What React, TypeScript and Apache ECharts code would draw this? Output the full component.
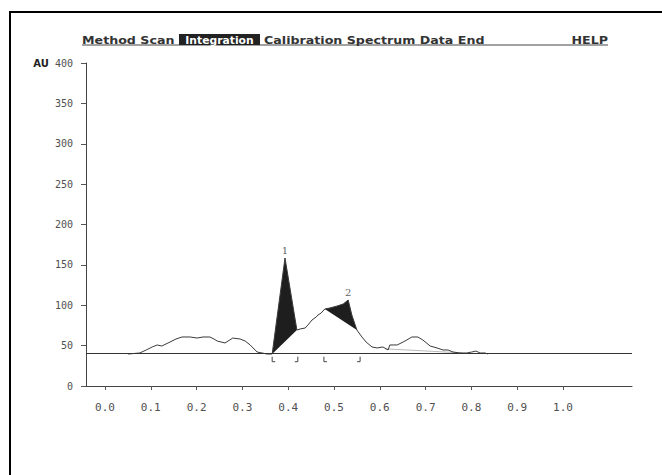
import React, { useEffect, useRef } from "react";
import * as echarts from "echarts";

// Densitometer trace (x: relative position, y: AU)
const curveX = [
  0.05, 0.076, 0.09, 0.103, 0.114, 0.124, 0.142, 0.155, 0.168, 0.186, 0.201, 0.214, 0.229, 0.238,
  0.245, 0.262, 0.279, 0.295, 0.306, 0.317, 0.332, 0.343, 0.354, 0.365, 0.393, 0.419, 0.426, 0.437,
  0.443, 0.452, 0.461, 0.465, 0.472, 0.48, 0.491, 0.507, 0.52, 0.531, 0.539, 0.55, 0.561, 0.57,
  0.583, 0.594, 0.607, 0.618, 0.622, 0.638, 0.651, 0.659, 0.67, 0.683, 0.694, 0.71, 0.725, 0.738,
  0.749, 0.76, 0.775, 0.79, 0.801, 0.81, 0.819, 0.83, 0.836,
];
const curveY = [
  39.6, 40.9, 44.6, 48.3, 50.8, 49.5, 54.5, 58.2, 60.7, 60.7, 59.4, 60.7, 60.7, 58.2,
  55.7, 53.3, 59.4, 58.2, 55.7, 50.8, 42.1, 40.9, 39.6, 39.6, 158.5, 69.3, 70.6, 71.8,
  75.5, 81.7, 85.4, 87.9, 90.4, 95.4, 96.6, 99.1, 101.5, 106.5, 87.9, 69.3, 60.7, 54.5,
  48.3, 47.1, 48.3, 44.6, 50.8, 50.8, 54.5, 57.0, 60.7, 60.7, 57.0, 49.5, 47.1, 44.6,
  44.6, 42.1, 40.9, 40.9, 42.1, 43.3, 40.9, 40.9, 39.6,
];
const baselineValue = 40;
const valleyLineX = [0.612, 0.78];
const valleyLineY = [46, 41];
const peakStarts = [0.365, 0.48];
const peakEnds = [0.419, 0.55];
const peakNames = ["1", "2"];
const markerStarts = [0.365, 0.478];
const markerEnds = [0.421, 0.557];
const xTickValues = [0, 0.1, 0.2, 0.3, 0.4, 0.5, 0.6, 0.7, 0.8, 0.9, 1.0];
const yMin = 0;
const yMax = 400;
const yStep = 50;
const yUnit = "AU";
const menuLeft = "Method Scan";
const menuActive = "Integration";
const menuRest = "Calibration Spectrum Data End";
const menuHelp = "HELP";

export default function App() {
  const ref = useRef<HTMLDivElement>(null);
  useEffect(() => {
    if (!ref.current) return;
    const chart = echarts.init(ref.current, null, { renderer: "svg" });
    const curve = curveX.map((x, i) => [x, curveY[i]]);
    const peakTops = peakStarts.map((s, i) => {
      let best = curve[0];
      curve.forEach((p) => {
        if (p[0] >= s - 1e-6 && p[0] <= peakEnds[i] + 1e-6 && (best[0] < s || p[1] > best[1])) best = p;
      });
      return { value: best, name: peakNames[i] };
    });
    const markers = [
      ...markerStarts.map((x) => [x, baselineValue, 1]),
      ...markerEnds.map((x) => [x, baselineValue, -1]),
    ];
    const mono = "DejaVu Sans Mono";
    const menuFont = "bold 11px 'DejaVu Sans'";
    const sx = 1.15;
    chart.setOption({
      animation: false,
      backgroundColor: "#ffffff",
      grid: { left: 86, right: 30, top: 63, bottom: 89, containLabel: false },
      xAxis: {
        type: "value",
        min: -0.0415,
        max: 1.1507,
        splitLine: { show: false },
        axisLine: { onZero: false, lineStyle: { color: "#444", width: 1 } },
        axisTick: { show: true, length: 4, lineStyle: { color: "#555" }, customValues: xTickValues },
        axisLabel: {
          customValues: xTickValues,
          formatter: (v: number) => v.toFixed(1),
          fontFamily: mono,
          fontSize: 11,
          color: "#505050",
          margin: 16,
        },
      },
      yAxis: {
        type: "value",
        min: yMin,
        max: yMax,
        interval: yStep,
        splitLine: { show: false },
        axisLine: { show: true, onZero: false, lineStyle: { color: "#444", width: 1 } },
        axisTick: { show: true, length: 5, lineStyle: { color: "#555" } },
        axisLabel: {
          fontFamily: mono,
          fontSize: 10,
          color: "#505050",
          margin: 13,
          formatter: (v: number) => (v === yMax ? `{au|${yUnit}} {n|${v}}` : `{n|${v}}`),
          rich: {
            au: { fontFamily: "DejaVu Sans", fontWeight: "bold", fontSize: 10, color: "#222" },
            n: { fontFamily: mono, fontSize: 10, color: "#505050" },
          },
        },
      },
      series: [
        {
          type: "custom",
          name: "fills",
          renderItem: (params: any, api: any) => {
            const i = params.dataIndex;
            const pts = curve
              .filter((p) => p[0] >= peakStarts[i] - 1e-6 && p[0] <= peakEnds[i] + 1e-6)
              .map((p) => api.coord(p));
            return { type: "polygon", shape: { points: pts }, style: { fill: "#1e1e1e" } };
          },
          data: peakStarts.map((s, i) => [s, peakEnds[i]]),
          silent: true,
          z: 1,
        },
        {
          type: "line",
          name: "trace",
          data: curve,
          symbol: "none",
          lineStyle: { color: "#3a3a3a", width: 1 },
          z: 3,
          markLine: {
            silent: true,
            symbol: "none",
            label: { show: false },
            lineStyle: { color: "#333", width: 1, type: "solid" },
            data: [{ yAxis: baselineValue }],
          },
        },
        {
          type: "line",
          name: "valley",
          data: valleyLineX.map((x, i) => [x, valleyLineY[i]]),
          symbol: "none",
          lineStyle: { color: "#bbb", width: 1 },
          z: 2,
        },
        {
          type: "scatter",
          name: "peaks",
          data: peakTops,
          symbolSize: 0,
          label: {
            show: true,
            position: "top",
            distance: 3,
            formatter: (p: any) => p.name,
            fontFamily: "DejaVu Serif",
            fontSize: 10,
            color: "#333",
          },
          z: 4,
        },
        {
          type: "custom",
          name: "markers",
          renderItem: (params: any, api: any) => {
            const p = api.coord([api.value(0), api.value(1)]);
            const dir = api.value(2);
            return {
              type: "polyline",
              shape: {
                points: [
                  [p[0], p[1] + 3],
                  [p[0], p[1] + 8],
                  [p[0] + dir * 3, p[1] + 8],
                ],
              },
              style: { stroke: "#444", lineWidth: 1, fill: null },
            };
          },
          data: markers,
          silent: true,
          z: 4,
        },
      ],
      graphic: [
        { type: "line", shape: { x1: 9, y1: 12, x2: 662, y2: 12 }, style: { stroke: "#000", lineWidth: 2 } },
        { type: "line", shape: { x1: 10, y1: 11, x2: 10, y2: 475 }, style: { stroke: "#000", lineWidth: 2 } },
        { type: "line", shape: { x1: 82, y1: 45, x2: 608, y2: 45 }, style: { stroke: "#444", lineWidth: 1 } },
        { type: "rect", shape: { x: 179, y: 34, width: 81, height: 11 }, style: { fill: "#222" } },
        {
          type: "text",
          x: 82,
          y: 40,
          scaleX: sx,
          style: { text: menuLeft, font: menuFont, fill: "#333", verticalAlign: "middle" },
        },
        {
          type: "text",
          x: 219.5,
          y: 40,
          scaleX: 0.98,
          style: { text: menuActive, font: menuFont, fill: "#fff", align: "center", verticalAlign: "middle" },
        },
        {
          type: "text",
          x: 264,
          y: 40,
          scaleX: sx,
          style: { text: menuRest, font: menuFont, fill: "#333", verticalAlign: "middle" },
        },
        {
          type: "text",
          x: 608,
          y: 40,
          scaleX: sx,
          style: { text: menuHelp, font: menuFont, fill: "#333", align: "right", verticalAlign: "middle" },
        },
      ],
    });
    return () => chart.dispose();
  }, []);
  return <div ref={ref} style={{ position: "absolute", left: 0, top: 0, width: 662, height: 475 }} />;
}
